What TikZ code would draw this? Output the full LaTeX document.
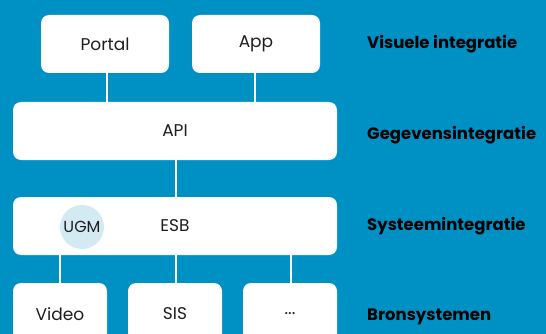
\documentclass[tikz,border=0pt]{standalone}
\usepackage{fontspec}
\setmainfont{Poppins}
\definecolor{bgblue}{RGB}{0,145,196}
\definecolor{ugmfill}{RGB}{212,234,243}
\definecolor{txt}{RGB}{30,30,30}
\begin{document}
\begin{tikzpicture}[x=1pt,y=-1pt,
  box/.style={draw=none,fill=white,rounded corners=8pt,inner sep=0pt,text=txt,font=\fontsize{17}{20}\selectfont},
  lbl/.style={anchor=west,inner sep=0pt,text=black,font=\bfseries\fontsize{16.5}{19}\selectfont},
  conn/.style={draw=white,line width=2pt}]
\fill[bgblue] (0,0) rectangle (546,334);
\useasboundingbox (0,0) rectangle (546,334);
\clip (0,0) rectangle (546,334);
\node[box,minimum width=128pt,minimum height=58pt] (portal) at (105,44) {Portal};
\node[box,minimum width=128pt,minimum height=58pt] (app) at (256,44) {App};
\node[box,minimum width=324pt,minimum height=58pt] (api) at (175,131) {API};
\node[box,minimum width=324pt,minimum height=58pt] (esb) at (175,226) {ESB};
\node[circle,fill=ugmfill,minimum size=44pt,inner sep=0pt,text=txt,font=\fontsize{16}{19}\selectfont] (ugm) at (82,227) {UGM};
\node[box,minimum width=94pt,minimum height=62pt] (video) at (60,314) {Video};
\node[box,minimum width=94pt,minimum height=62pt] (sis) at (175,314) {SIS};
\node[box,minimum width=94pt,minimum height=62pt] (dots) at (290,314) {...};
\draw[conn] ([xshift=2pt]portal.south) -- ([xshift=2pt]portal.south |- api.north);
\draw[conn] ([xshift=-1pt]app.south) -- ([xshift=-1pt]app.south |- api.north);
\draw[conn] ([xshift=1pt]api.south) -- ([xshift=1pt]api.south |- esb.north);
\draw[conn] (video.north |- esb.south) -- (video.north);
\draw[conn] ([xshift=1pt]sis.north |- esb.south) -- ([xshift=1pt]sis.north);
\draw[conn] ([xshift=1pt]dots.north |- esb.south) -- ([xshift=1pt]dots.north);
\node[lbl] (l1) at (367,44) {Visuele integratie};
\node[lbl] (l2) at (367,135) {Gegevensintegratie};
\node[lbl] (l3) at (367,226) {Systeemintegratie};
\node[lbl] (l4) at (367,317) {Bronsystemen};
\end{tikzpicture}
\end{document}
